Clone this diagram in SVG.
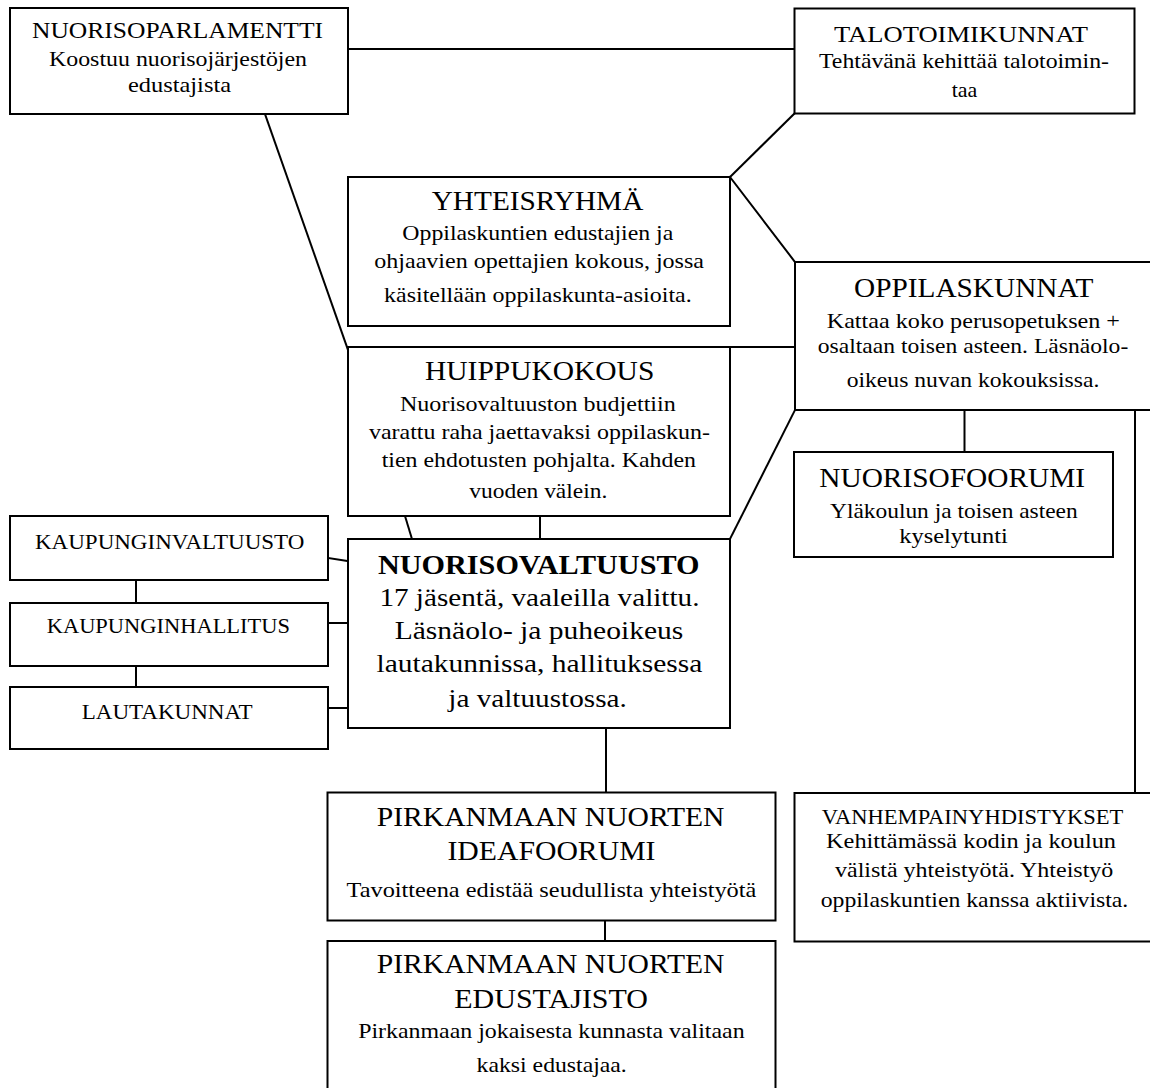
<svg xmlns="http://www.w3.org/2000/svg" width="1150" height="1088" viewBox="0 0 1150 1088">
<style>
.bg{fill:#fff}
.box{fill:#fff;stroke:#000;stroke-width:2}
.c line{stroke:#000;stroke-width:2;stroke-linecap:square}
text{font-family:"Liberation Serif","Times New Roman",serif;fill:#000}
.h{font-size:27px}
.hs{font-size:23px}
.hx{font-size:21px}
.b{font-size:22px}
.bb{font-size:26px}
.bold{font-weight:bold}
</style>
<rect class="bg" x="0" y="0" width="1150" height="1088"/>
<g id="connectors" class="c">
<line x1="348" y1="49" x2="794" y2="49"/>
<line x1="265" y1="114" x2="348" y2="350"/>
<line x1="794.5" y1="113.5" x2="730" y2="177"/>
<line x1="730" y1="177" x2="795" y2="262"/>
<line x1="730" y1="347" x2="795" y2="347"/>
<line x1="405" y1="516" x2="412" y2="539"/>
<line x1="540" y1="516" x2="540" y2="539"/>
<line x1="730" y1="539" x2="795" y2="410"/>
<line x1="964.5" y1="410" x2="964.5" y2="452"/>
<line x1="1135" y1="410" x2="1135" y2="793"/>
<line x1="328" y1="558" x2="348" y2="561"/>
<line x1="328" y1="623" x2="348" y2="623"/>
<line x1="328" y1="708" x2="348" y2="708"/>
<line x1="136" y1="580" x2="136" y2="603"/>
<line x1="136" y1="666" x2="136" y2="687"/>
<line x1="606" y1="728" x2="606" y2="792"/>
<line x1="605" y1="921" x2="605" y2="941"/>
</g>
<g id="nuorisoparlamentti">
<rect class="box" x="10" y="8" width="338" height="106"/>
<text class="hs" x="32" y="37.5" textLength="291" lengthAdjust="spacingAndGlyphs">NUORISOPARLAMENTTI</text>
<text class="b" x="49" y="65.5" textLength="258" lengthAdjust="spacingAndGlyphs">Koostuu nuorisojärjestöjen</text>
<text class="b" x="128" y="91.5" textLength="103" lengthAdjust="spacingAndGlyphs">edustajista</text>
</g>
<g id="talotoimikunnat">
<rect class="box" x="794.5" y="8.5" width="340" height="105"/>
<text class="hs" x="834" y="41.7" textLength="254" lengthAdjust="spacingAndGlyphs">TALOTOIMIKUNNAT</text>
<text class="b" x="819" y="68.3" textLength="290" lengthAdjust="spacingAndGlyphs">Tehtävänä kehittää talotoimin-</text>
<text class="b" x="964.5" y="96.7" text-anchor="middle">taa</text>
</g>
<g id="yhteisryhma">
<rect class="box" x="348" y="177" width="382" height="149"/>
<text class="h" x="431.7" y="210" textLength="211.6" lengthAdjust="spacingAndGlyphs">YHTEISRYHMÄ</text>
<text class="b" x="402.3" y="240" textLength="271" lengthAdjust="spacingAndGlyphs">Oppilaskuntien edustajien ja</text>
<text class="b" x="374.3" y="268.3" textLength="329.7" lengthAdjust="spacingAndGlyphs">ohjaavien opettajien kokous, jossa</text>
<text class="b" x="384" y="301.7" textLength="307.7" lengthAdjust="spacingAndGlyphs">käsitellään oppilaskunta-asioita.</text>
</g>
<g id="huippukokous">
<rect class="box" x="348" y="347" width="382" height="169"/>
<text class="h" x="425" y="380" textLength="229.3" lengthAdjust="spacingAndGlyphs">HUIPPUKOKOUS</text>
<text class="b" x="400" y="410.7" textLength="275.7" lengthAdjust="spacingAndGlyphs">Nuorisovaltuuston budjettiin</text>
<text class="b" x="369" y="439" textLength="341" lengthAdjust="spacingAndGlyphs">varattu raha jaettavaksi oppilaskun-</text>
<text class="b" x="381.7" y="466.7" textLength="314.3" lengthAdjust="spacingAndGlyphs">tien ehdotusten pohjalta. Kahden</text>
<text class="b" x="469.3" y="498.3" textLength="138" lengthAdjust="spacingAndGlyphs">vuoden välein.</text>
</g>
<g id="oppilaskunnat">
<rect class="box" x="795" y="262" width="370" height="148"/>
<text class="h" x="854" y="296.7" textLength="239.3" lengthAdjust="spacingAndGlyphs">OPPILASKUNNAT</text>
<text class="b" x="826.7" y="328.3" textLength="293.3" lengthAdjust="spacingAndGlyphs">Kattaa koko perusopetuksen +</text>
<text class="b" x="817.7" y="353.3" textLength="310.6" lengthAdjust="spacingAndGlyphs">osaltaan toisen asteen. Läsnäolo-</text>
<text class="b" x="846.7" y="386.7" textLength="252.6" lengthAdjust="spacingAndGlyphs">oikeus nuvan kokouksissa.</text>
</g>
<g id="nuorisofoorumi">
<rect class="box" x="794" y="452" width="319" height="105"/>
<text class="h" x="819.3" y="486.7" textLength="265.7" lengthAdjust="spacingAndGlyphs">NUORISOFOORUMI</text>
<text class="b" x="830" y="518.3" textLength="247.7" lengthAdjust="spacingAndGlyphs">Yläkoulun ja toisen asteen</text>
<text class="b" x="899.3" y="543.3" textLength="108.4" lengthAdjust="spacingAndGlyphs">kyselytunti</text>
</g>
<g id="kaupunginvaltuusto">
<rect class="box" x="10" y="516" width="318" height="64"/>
<text class="hx" x="35" y="549.3" textLength="269.3" lengthAdjust="spacingAndGlyphs">KAUPUNGINVALTUUSTO</text>
</g>
<g id="kaupunginhallitus">
<rect class="box" x="10" y="603" width="318" height="63"/>
<text class="hx" x="46.7" y="632.7" textLength="243.3" lengthAdjust="spacingAndGlyphs">KAUPUNGINHALLITUS</text>
</g>
<g id="lautakunnat">
<rect class="box" x="10" y="687" width="318" height="62"/>
<text class="hx" x="81.7" y="719.3" textLength="171" lengthAdjust="spacingAndGlyphs">LAUTAKUNNAT</text>
</g>
<g id="nuorisovaltuusto">
<rect class="box" x="348" y="539" width="382" height="189"/>
<text class="h bold" x="378" y="574" textLength="321.5" lengthAdjust="spacingAndGlyphs">NUORISOVALTUUSTO</text>
<text class="bb" x="379.4" y="606" textLength="320.1" lengthAdjust="spacingAndGlyphs">17 jäsentä, vaaleilla valittu.</text>
<text class="bb" x="394.7" y="639.3" textLength="288.6" lengthAdjust="spacingAndGlyphs">Läsnäolo- ja puheoikeus</text>
<text class="bb" x="376.6" y="671.7" textLength="325.8" lengthAdjust="spacingAndGlyphs">lautakunnissa, hallituksessa</text>
<text class="bb" x="448.3" y="706.7" textLength="178.5" lengthAdjust="spacingAndGlyphs">ja valtuustossa.</text>
</g>
<g id="ideafoorumi">
<rect class="box" x="327.5" y="792.5" width="448" height="128"/>
<text class="h" x="376.8" y="825.7" textLength="347.7" lengthAdjust="spacingAndGlyphs">PIRKANMAAN NUORTEN</text>
<text class="h" x="447.4" y="860" textLength="208.1" lengthAdjust="spacingAndGlyphs">IDEAFOORUMI</text>
<text class="b" x="346.5" y="896.7" textLength="409.8" lengthAdjust="spacingAndGlyphs">Tavoitteena edistää seudullista yhteistyötä</text>
</g>
<g id="edustajisto">
<rect class="box" x="327.5" y="941" width="448" height="160"/>
<text class="h" x="376.8" y="973.3" textLength="347.7" lengthAdjust="spacingAndGlyphs">PIRKANMAAN NUORTEN</text>
<text class="h" x="454.3" y="1008.3" textLength="193.7" lengthAdjust="spacingAndGlyphs">EDUSTAJISTO</text>
<text class="b" x="358.2" y="1038.3" textLength="386.4" lengthAdjust="spacingAndGlyphs">Pirkanmaan jokaisesta kunnasta valitaan</text>
<text class="b" x="476.6" y="1071.7" textLength="150.2" lengthAdjust="spacingAndGlyphs">kaksi edustajaa.</text>
</g>
<g id="vanhempainyhdistykset">
<rect class="box" x="794.5" y="793" width="370" height="148.5"/>
<text class="hx" x="821.7" y="824" textLength="301.6" lengthAdjust="spacingAndGlyphs">VANHEMPAINYHDISTYKSET</text>
<text class="b" x="826" y="848.3" textLength="290" lengthAdjust="spacingAndGlyphs">Kehittämässä kodin ja koulun</text>
<text class="b" x="835" y="876.7" textLength="278.3" lengthAdjust="spacingAndGlyphs">välistä yhteistyötä. Yhteistyö</text>
<text class="b" x="820.7" y="906.7" textLength="307.6" lengthAdjust="spacingAndGlyphs">oppilaskuntien kanssa aktiivista.</text>
</g>
</svg>
